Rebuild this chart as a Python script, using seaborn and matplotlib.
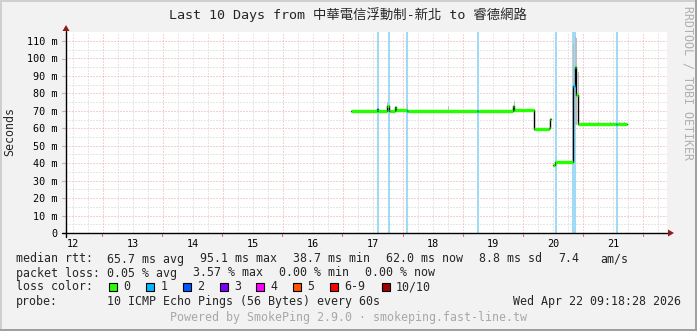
import numpy as np
import pandas as pd
import matplotlib
matplotlib.use("Agg")
import matplotlib.pyplot as plt
import seaborn as sns
from matplotlib.patches import Polygon, Rectangle
from matplotlib.lines import Line2D

# ---------------- data ----------------
title = "Last 10 Days from 中華電信浮動制-新北 to 睿德網路"
day_ticks = [12, 13, 14, 15, 16, 17, 18, 19, 20, 21]
day_labels = ["12", "13", "14", "15", "16", "17", "18", "19", "20", "21"]
y_ticks = [0, 10, 20, 30, 40, 50, 60, 70, 80, 90, 100, 110]
y_labels = ["0", "10 m", "20 m", "30 m", "40 m", "50 m", "60 m", "70 m",
            "80 m", "90 m", "100 m", "110 m"]

# median rtt samples (day, ms, loss class); NaN = no data
median_t = [16.642, 17.062, 17.085, 17.233, 17.258, 17.280, 17.362, 17.387,
            17.562, 17.587, 18.727, 18.750, 19.325, 19.350, 19.671, 19.930,
            19.945, 19.960, 19.987, 20.020, 20.320, 20.336, 20.353, 20.370,
            20.386, 20.403, 21.040, 21.062]
median_v = [69.8, 71.2, 69.8, 72.8, 70.0, 70.0, 72.2, 70.2,
            70.0, 70.0, 70.0, 69.9, 72.8, 70.2, 59.8, 60.0,
            65.3, np.nan, 38.8, 40.4, 74.0, 84.0, 95.0, 88.0,
            79.0, 62.3, 62.3, 62.3]
median_loss = [0, 1, 0, 0, 0, 0, 0, 0,
               1, 0, 1, 0, 0, 0, 0, 0,
               0, 0, 0, 0, 0, 1, 0, 0,
               0, 0, 1, 0]
median_end = 21.218

# smoke (ping spread) samples
smoke_t = [17.241, 17.574, 18.240, 19.338, 20.336, 20.353, 20.370, 20.386,
           20.403, 20.600, 20.750, 20.950, 21.100, 21.170]
smoke_lo = [70.0, 70.0, 70.0, 70.0, 62.0, 62.0, 62.0, 62.0,
            62.0, 62.0, 62.0, 62.0, 62.0, 62.0]
smoke_hi = [75.0, 74.0, 72.5, 75.5, 108.0, 113.0, 112.0, 104.0,
            92.0, 63.8, 63.6, 63.8, 63.8, 63.5]

# times with packet loss (background markers)
loss_event_t = [17.075, 17.258, 17.574, 18.739, 20.037, 20.320, 20.336, 20.353, 21.052]

loss_labels = ["0", "1", "2", "3", "4", "5", "6-9", "10/10"]
loss_colors = ["#26ff00", "#00b8ff", "#0059ff", "#7e00ff", "#ff00ff",
               "#ff5500", "#ff0000", "#a10000"]

stats_rtt = ["65.7 ms avg", "95.1 ms max", "38.7 ms min", "62.0 ms now",
             "8.8 ms sd", "7.4", "am/s"]
stats_loss = ["0.05 % avg", "3.57 % max", "0.00 % min", "0.00 % now"]
probe_text = "10 ICMP Echo Pings (56 Bytes) every 60s"
date_text = "Wed Apr 22 09:18:28 2026"
footer = "Powered by SmokePing 2.9.0 · smokeping.fast-line.tw"

# ---------------- styling ----------------
W, H = 697, 331
sns.set_theme(style="white")
MONO = ["DejaVu Sans Mono", "Noto Sans CJK TC"]
plt.rcParams["font.family"] = MONO
BG = "#f2f2f2"


def fx(x):
    return x / W


def fy(y):
    return 1 - y / H


fig = plt.figure(figsize=(W / 100, H / 100), dpi=100)
fig.patch.set_facecolor(BG)

L, R, T, B = 66, 667, 32, 233
ax = fig.add_axes([fx(L), fy(B), (R - L) / W, (B - T) / H])
ax.set_facecolor("white")
xmin = 12 - 6.5 / 60.1
ax.set_xlim(xmin, xmin + 10)
ax.set_ylim(0, 110 * (B - T) / (B - 41))

for s in ax.spines.values():
    s.set_visible(False)

# grid
dot = (0, (1, 2))
px = 0.72
for k in range(0, 41):
    xv = 12 + 0.25 * k - 0.25
    if xv <= xmin or xv >= xmin + 10:
        continue
    major = abs((xv - 12.5) - round(xv - 12.5)) < 1e-6
    ax.axvline(xv, color="#e8a4a4" if major else "#cfcfcf", lw=px,
               ls=dot, zorder=0.5)
for yv in range(5, 115, 5):
    major = yv % 10 == 0
    ax.axhline(yv, color="#e8a4a4" if major else "#cfcfcf", lw=px,
               ls=dot, zorder=0.5)

step = 10 / 601.0
# loss background markers
for t in loss_event_t:
    ax.axvspan(t - step * 1.0, t + step * 1.0, color="#9fdaf7", lw=0, zorder=0.8)

# smoke
ax.bar(smoke_t, np.array(smoke_hi) - np.array(smoke_lo), bottom=smoke_lo,
       width=step, align="edge", color="#bdbdbd", lw=0, zorder=1)

# median black step line
rows = []
seg = 0
ends = median_t[1:] + [median_end]
for t, v, e in zip(median_t, median_v, ends):
    if np.isnan(v):
        seg += 1
        continue
    rows.append((t, v, seg))
    rows.append((e, v, seg))
df = pd.DataFrame(rows, columns=["t", "v", "seg"])
sns.lineplot(data=df, x="t", y="v", units="seg", estimator=None, color="black",
             lw=1.0, ax=ax, zorder=2, sort=False)

# colored median (loss color)
for t, v, e, lc in zip(median_t, median_v, ends, median_loss):
    if np.isnan(v):
        continue
    ax.hlines(v, t, e, colors=loss_colors[lc], lw=2.4, zorder=3)

ax.set_xlabel("")
ax.set_ylabel("")
ax.set_xticks(day_ticks, labels=day_labels)
ax.set_yticks(y_ticks, labels=y_labels)
ax.tick_params(axis="both", length=0, labelsize=7.3, colors="black")
ax.tick_params(axis="x", pad=4)
ax.tick_params(axis="y", pad=6)
for lab in ax.get_xticklabels() + ax.get_yticklabels():
    lab.set_family(MONO)

# axes lines and arrows (figure pixel coords)
fig.add_artist(Line2D([fx(62), fx(668)], [fy(233), fy(233)], color="black", lw=1.0, zorder=5))
fig.add_artist(Line2D([fx(66), fx(66)], [fy(237), fy(31)], color="black", lw=1.0, zorder=5))
fig.add_artist(Polygon([[fx(668), fy(229.5)], [fx(668), fy(236.5)], [fx(674), fy(233)]],
                       closed=True, color="#8c1c1c", lw=0, zorder=5))
fig.add_artist(Polygon([[fx(62.5), fy(31)], [fx(69.5), fy(31)], [fx(66), fy(25)]],
                       closed=True, color="#8c1c1c", lw=0, zorder=5))
# small ticks
for k in range(10):
    xp = 102 + 60.1 * k
    fig.add_artist(Line2D([fx(xp), fx(xp)], [fy(234), fy(236)], color="#e07070", lw=0.8))
for i in range(12):
    yp = 233 - 17.45 * i
    fig.add_artist(Line2D([fx(62), fx(66)], [fy(yp), fy(yp)], color="#e8a4a4", lw=0.8))

# title and side texts
fig.text(fx(348), fy(15), title, ha="center", va="center", fontsize=9.6, family=MONO)
fig.text(fx(10), fy(132), "Seconds", ha="center", va="center", rotation=90,
         fontsize=8.4, family=MONO)
fig.text(fx(688), fy(83), "RRDTOOL / TOBI OETIKER", ha="center", va="center",
         rotation=270, fontsize=8.4, color="#b0b0b0", family=MONO)

FS = 8.4
y1, y2, y3, y4 = 259, 273, 287, 301
fig.text(fx(16), fy(y1), "median rtt:", fontsize=FS, va="center", family=MONO)
for x, s in zip([107, 200, 293, 386, 479, 558, 600], stats_rtt):
    fig.text(fx(x), fy(y1), s, fontsize=FS, va="center", family=MONO)
fig.text(fx(16), fy(y2), "packet loss:", fontsize=FS, va="center", family=MONO)
for x, s in zip([107, 193, 279, 365], stats_loss):
    fig.text(fx(x), fy(y2), s, fontsize=FS, va="center", family=MONO)
fig.text(fx(16), fy(y3), "loss color:", fontsize=FS, va="center", family=MONO)
sw_x = [109, 146, 183, 219.5, 256, 293, 330, 381.5]
for x, lab, c in zip(sw_x, loss_labels, loss_colors):
    fig.add_artist(Rectangle((fx(x), fy(y3 + 4)), 8 / W, 8 / H, facecolor=c,
                             edgecolor="black", lw=0.8))
    fig.text(fx(x + 14.5), fy(y3), lab, fontsize=FS, va="center", family=MONO)
fig.text(fx(16), fy(y4), "probe:", fontsize=FS, va="center", family=MONO)
fig.text(fx(107), fy(y4), probe_text, fontsize=FS, va="center", family=MONO)
fig.text(fx(681), fy(y4), date_text, fontsize=FS, va="center", ha="right", family=MONO)
fig.text(fx(348), fy(318), footer, fontsize=FS, va="center", ha="center",
         color="#a8a8a8", family=MONO)

# frame
fig.add_artist(Line2D([0, 1], [fy(0.5), fy(0.5)], color="#cfcfcf", lw=1.4))
fig.add_artist(Line2D([fx(0.5), fx(0.5)], [0, 1], color="#cfcfcf", lw=1.4))
fig.add_artist(Line2D([0, 1], [fy(330), fy(330)], color="#9e9e9e", lw=1.4))
fig.add_artist(Line2D([fx(696), fx(696)], [0, 1], color="#9e9e9e", lw=1.4))

fig.savefig("out.png", dpi=100, facecolor=BG)
